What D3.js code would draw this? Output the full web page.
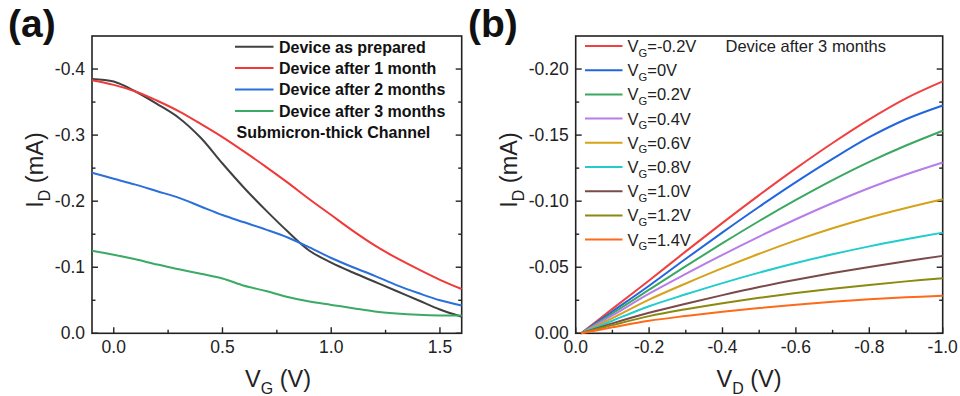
<!DOCTYPE html>
<html><head><meta charset="utf-8">
<script src="https://cdn.jsdelivr.net/npm/d3@7"></script>
<style>
body{margin:0;background:#fff;}
svg{display:block;font-family:"Liberation Sans",Arial,sans-serif;}
</style></head>
<body><svg id="c" width="960" height="396"></svg>
<script>
// ---------- Panel (a) data ----------
const vgA = [-0.1, 0, 0.1, 0.2, 0.3, 0.4, 0.5, 0.6, 0.7, 0.8, 0.9, 1.0, 1.1, 1.2, 1.3, 1.4, 1.5, 1.6];
const idPrepared = [-0.385,-0.381,-0.366,-0.347,-0.326,-0.296,-0.257,-0.220,-0.186,-0.154,-0.125,-0.107,-0.092,-0.078,-0.064,-0.050,-0.036,-0.025];
const idMonth1   = [-0.383,-0.376,-0.366,-0.352,-0.336,-0.317,-0.297,-0.275,-0.252,-0.228,-0.203,-0.179,-0.155,-0.133,-0.114,-0.097,-0.081,-0.067];
const idMonth2   = [-0.243,-0.234,-0.225,-0.215,-0.205,-0.192,-0.179,-0.168,-0.157,-0.145,-0.130,-0.114,-0.100,-0.087,-0.073,-0.061,-0.050,-0.042];
const idMonth3   = [-0.125,-0.119,-0.112,-0.104,-0.097,-0.090,-0.083,-0.072,-0.064,-0.055,-0.048,-0.043,-0.038,-0.033,-0.030,-0.028,-0.027,-0.027];
const seriesA = ["Device as prepared","Device after 1 month","Device after 2 months","Device after 3 months"];
const colorsA = ["#404040","#f03a3a","#2a6fdb","#3aaa64"];
const xTicksA = [0, 0.5, 1.0, 1.5];
const yTicksA = [0, -0.1, -0.2, -0.3, -0.4];

// ---------- Panel (b) data ----------
const vdB = [-0.015, -0.1, -0.2, -0.3, -0.4, -0.5, -0.6, -0.7, -0.8, -0.9, -1.0];
const idVgm02 = [0,-0.0185,-0.0400,-0.0620,-0.0836,-0.1046,-0.1248,-0.1440,-0.1619,-0.1778,-0.1906];
const idVg00  = [0,-0.0165,-0.0360,-0.0564,-0.0764,-0.0958,-0.1144,-0.1320,-0.1484,-0.1620,-0.1724];
const idVg02  = [0,-0.0150,-0.0330,-0.0508,-0.0682,-0.0850,-0.1009,-0.1159,-0.1297,-0.1421,-0.1533];
const idVg04  = [0,-0.0135,-0.0300,-0.0450,-0.0594,-0.0732,-0.0863,-0.0986,-0.1100,-0.1202,-0.1293];
const idVg06  = [0,-0.0115,-0.0255,-0.0377,-0.0493,-0.0602,-0.0703,-0.0795,-0.0877,-0.0949,-0.1015];
const idVg08  = [0,-0.0095,-0.0205,-0.0295,-0.0380,-0.0459,-0.0532,-0.0598,-0.0658,-0.0712,-0.0762];
const idVg10  = [0,-0.0075,-0.0155,-0.0224,-0.0289,-0.0350,-0.0405,-0.0456,-0.0502,-0.0545,-0.0586];
const idVg12  = [0,-0.0062,-0.0130,-0.0182,-0.0228,-0.0269,-0.0305,-0.0337,-0.0366,-0.0393,-0.0417];
const idVg14  = [0,-0.0045,-0.0095,-0.0131,-0.0163,-0.0191,-0.0216,-0.0238,-0.0257,-0.0272,-0.0285];
const vgLabelsB = ["-0.2","0","0.2","0.4","0.6","0.8","1.0","1.2","1.4"];
const colorsB = ["#f04040","#2266dd","#3aa860","#b77de8","#d6a21a","#22cccc","#7a4a4a","#8a8a10","#ff6a1a"];
const xTicksB = [0, -0.2, -0.4, -0.6, -0.8, -1.0];
const yTicksB = [0, -0.05, -0.10, -0.15, -0.20];

const svg = d3.select("#c");
const AX = "#222";

function frame(g, x, y, xMaj, xMin, yMaj, yMin, xFmt, yFmt){
  const [x0,x1] = x.range(), [y0,y1] = y.range();
  g.append("rect").attr("x",x0).attr("y",y1).attr("width",x1-x0).attr("height",y0-y1)
    .attr("fill","none").attr("stroke",AX).attr("stroke-width",1.6);
  xMaj.forEach(v=>g.append("line").attr("x1",x(v)).attr("x2",x(v)).attr("y1",y0).attr("y2",y0-6).attr("stroke",AX).attr("stroke-width",1.4));
  xMin.forEach(v=>g.append("line").attr("x1",x(v)).attr("x2",x(v)).attr("y1",y0).attr("y2",y0-3.5).attr("stroke",AX).attr("stroke-width",1.4));
  yMaj.forEach(v=>{
    g.append("line").attr("x1",x0).attr("x2",x0+6).attr("y1",y(v)).attr("y2",y(v)).attr("stroke",AX).attr("stroke-width",1.4);
    g.append("line").attr("x1",x1).attr("x2",x1-6).attr("y1",y(v)).attr("y2",y(v)).attr("stroke",AX).attr("stroke-width",1.4);
  });
  yMin.forEach(v=>{
    g.append("line").attr("x1",x0).attr("x2",x0+3.5).attr("y1",y(v)).attr("y2",y(v)).attr("stroke",AX).attr("stroke-width",1.4);
    g.append("line").attr("x1",x1).attr("x2",x1-3.5).attr("y1",y(v)).attr("y2",y(v)).attr("stroke",AX).attr("stroke-width",1.4);
  });
  xMaj.forEach(v=>g.append("text").attr("x",x(v)).attr("y",y0+20).attr("text-anchor","middle")
    .attr("font-size",17.5).attr("fill","#222").text(xFmt(v)));
  yMaj.forEach(v=>g.append("text").attr("x",x0-7).attr("y",y(v)+6).attr("text-anchor","end")
    .attr("font-size",17.5).attr("fill","#222").text(yFmt(v)));
}

function subLabel(g, x, y, main, sub, rest, size, opts={}){
  const t = g.append("text").attr("x",x).attr("y",y).attr("font-size",size).attr("fill","#222");
  if(opts.anchor) t.attr("text-anchor",opts.anchor);
  if(opts.weight) t.attr("font-weight",opts.weight);
  if(opts.rotate) t.attr("transform",`rotate(-90,${x},${y})`);
  t.append("tspan").text(main);
  t.append("tspan").attr("font-size",size*0.68).attr("dy",size*0.28).text(sub);
  t.append("tspan").attr("dy",-size*0.28).text(rest);
  return t;
}

// ---------- Panel (a) ----------
const gA = svg.append("g");
const xA = d3.scaleLinear().domain([-0.1,1.6]).range([92,461.7]);
const yA = d3.scaleLinear().domain([0,-0.45]).range([333.3,36]);
const fmt1 = d3.format(".1f");
const minus = s => s.replace("\u2212","-");
frame(gA, xA, yA, xTicksA, [0.25,0.75,1.25], yTicksA, [-0.05,-0.15,-0.25,-0.35],
  v=>minus(fmt1(v)), v=>minus(fmt1(v)));
const seriesDataA = [idPrepared, idMonth1, idMonth2, idMonth3];
const lineA = d3.line().x(d=>xA(d[0])).y(d=>yA(d[1])).curve(d3.curveCatmullRom.alpha(0.5));
seriesDataA.forEach((s,i)=>{
  gA.append("path").datum(vgA.map((v,j)=>[v,s[j]])).attr("d",lineA)
    .attr("fill","none").attr("stroke",colorsA[i]).attr("stroke-width",2);
});
seriesA.forEach((name,i)=>{
  const yy = 46.7 + i*21.4;
  gA.append("line").attr("x1",235).attr("x2",273.5).attr("y1",yy).attr("y2",yy)
    .attr("stroke",colorsA[i]).attr("stroke-width",2);
  gA.append("text").attr("x",279).attr("y",yy+5.8).attr("font-size",16).attr("font-weight","bold")
    .attr("fill","#111").text(name);
});
gA.append("text").attr("x",236.5).attr("y",46.7+4*21.4+5.8).attr("font-size",16).attr("font-weight","bold")
  .attr("fill","#111").text("Submicron-thick Channel");
subLabel(gA, 278, 387, "V", "G", " (V)", 23.5, {anchor:"middle"});
subLabel(gA, 43, 170, "I", "D", " (mA)", 23.5, {anchor:"middle", rotate:true});
gA.append("text").attr("x",8).attr("y",37).attr("font-size",39).attr("font-weight","bold").attr("fill","#111").text("(a)");

// ---------- Panel (b) ----------
const gB = svg.append("g");
const xB = d3.scaleLinear().domain([0,-1.0]).range([575.7,942.7]);
const yB = d3.scaleLinear().domain([0,-0.225]).range([333.3,36]);
const fmt2 = d3.format(".2f");
frame(gB, xB, yB, xTicksB, [-0.1,-0.3,-0.5,-0.7,-0.9], yTicksB, [-0.025,-0.075,-0.125,-0.175],
  v=>minus(fmt1(v)), v=>minus(fmt2(v)));
const seriesDataB = [idVgm02, idVg00, idVg02, idVg04, idVg06, idVg08, idVg10, idVg12, idVg14];
const lineB = d3.line().x(d=>xB(d[0])).y(d=>yB(d[1])).curve(d3.curveCatmullRom.alpha(0.5));
seriesDataB.forEach((s,i)=>{
  gB.append("path").datum(vdB.map((v,j)=>[v,s[j]])).attr("d",lineB)
    .attr("fill","none").attr("stroke",colorsB[i]).attr("stroke-width",2);
});
vgLabelsB.forEach((lab,i)=>{
  const yy = 46 + i*24.2;
  gB.append("line").attr("x1",585).attr("x2",622.5).attr("y1",yy).attr("y2",yy)
    .attr("stroke",colorsB[i]).attr("stroke-width",2);
  subLabel(gB, 627.5, yy+6, "V", "G", "="+lab+"V", 16.5);
});
gB.append("text").attr("x",725.5).attr("y",51.8).attr("font-size",16.5).attr("fill","#222").text("Device after 3 months");
subLabel(gB, 749, 387, "V", "D", " (V)", 23.5, {anchor:"middle"});
subLabel(gB, 517, 170, "I", "D", " (mA)", 23.5, {anchor:"middle", rotate:true});
gB.append("text").attr("x",468).attr("y",37).attr("font-size",39).attr("font-weight","bold").attr("fill","#111").text("(b)");
</script></body></html>
